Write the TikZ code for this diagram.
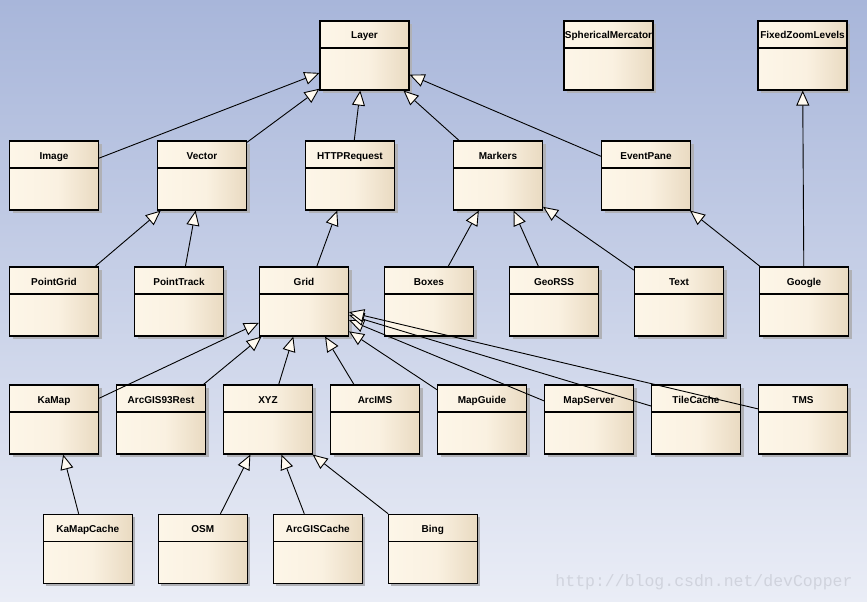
\documentclass[tikz,border=0pt]{standalone}
\usepackage{fontspec}
\setsansfont{Liberation Sans}
\setmonofont{Liberation Mono}
\usepackage{tikz}
\usetikzlibrary{arrows.meta,shadows}

\definecolor{bgtop}{RGB}{168,182,218}
\definecolor{bgbot}{RGB}{234,237,246}
\definecolor{clsA}{RGB}{253,246,232}
\definecolor{clsM}{RGB}{250,241,225}
\definecolor{clsB}{RGB}{233,218,193}
\definecolor{shadowgray}{RGB}{176,177,182}
\definecolor{tipfill}{RGB}{255,250,240}
\definecolor{wmgray}{RGB}{208,211,221}
\pgfdeclarehorizontalshading{clsshade}{100bp}{color(0bp)=(clsA); color(25bp)=(clsA); color(52bp)=(clsM); color(75bp)=(clsB); color(100bp)=(clsB)}

\begin{document}
\begin{tikzpicture}[x=1pt,y=-1pt]
      \tikzstyle{cls}=[rectangle,draw,line width=1.1pt,minimum width=89pt,inner sep=0pt,
        text height=18pt,text depth=51pt,font=\sffamily\bfseries\fontsize{10}{12}\selectfont,
        shading=clsshade,drop shadow={shadow xshift=3pt,shadow yshift=-3pt,fill=shadowgray,opacity=1},
        path picture={\draw[line width=1.1pt] ([yshift=-27pt]path picture bounding box.north west) -- ([yshift=-27pt]path picture bounding box.north east);}]
      \tikzstyle{inh}=[-{Triangle[length=15pt,width=13pt,fill=tipfill]},line width=.9pt]
      \tikzstyle{wmark}=[font=\ttfamily\fontsize{16.5}{18}\selectfont,text=wmgray]

      \useasboundingbox (0,0) rectangle (867,602);
      \shade[top color=bgtop,bottom color=bgbot] (0,0) rectangle (867,602);

      % top row
      \node[cls] (layer) at (364.5,55.5) {Layer};
      \node[cls] (sphmerc) at (608.5,55.5) {SphericalMercator};
      \node[cls] (fixzoom) at (802.5,55.5) {FixedZoomLevels};

      % second row
      \node[cls] (image) at (54,175.5) {Image};
      \node[cls] (vector) [node distance=148pt, right of=image] {Vector};
      \node[cls] (httpreq) [node distance=148pt, right of=vector] {HTTPRequest};
      \node[cls] (markers) [node distance=148pt, right of=httpreq] {Markers};
      \node[cls] (eventpane) [node distance=148pt, right of=markers] {EventPane};

      % third row
      \node[cls] (pointgrid) at (54,301.5) {PointGrid};
      \node[cls] (pointtrack) [node distance=125pt, right of=pointgrid] {PointTrack};
      \node[cls] (grid) [node distance=125pt, right of=pointtrack] {Grid};
      \node[cls] (boxes) [node distance=125pt, right of=grid] {Boxes};
      \node[cls] (georss) [node distance=125pt, right of=boxes] {GeoRSS};
      \node[cls] (text) [node distance=125pt, right of=georss] {Text};
      \node[cls] (google) [node distance=125pt, right of=text] {Google};

      % fourth row
      \node[cls] (kamap) at (54,419.5) {KaMap};
      \node[cls] (arcgisrest) [node distance=107pt, right of=kamap] {ArcGIS93Rest};
      \node[cls] (xyz) [node distance=107pt, right of=arcgisrest] {XYZ};
      \node[cls] (arcims) [node distance=107pt, right of=xyz] {ArcIMS};
      \node[cls] (mapguide) [node distance=107pt, right of=arcims] {MapGuide};
      \node[cls] (mapserver) [node distance=107pt, right of=mapguide] {MapServer};
      \node[cls] (tilecache) [node distance=107pt, right of=mapserver] {TileCache};
      \node[cls] (tms) [node distance=107pt, right of=tilecache] {TMS};

      % bottom row
      \node[cls] (kamapcache) at (87.8,548.8) {KaMapCache};
      \node[cls] (osm) [node distance=115pt, right of=kamapcache] {OSM};
      \node[cls] (arcgiscache) [node distance=115pt, right of=osm] {ArcGISCache};
      \node[cls] (bing) [node distance=115pt, right of=arcgiscache] {Bing};

      \draw[inh] (image) -- (layer);
      \draw[inh] (vector) -- (layer);
      \draw[inh] (httpreq) -- (layer);
      \draw[inh] (markers) -- (layer);
      \draw[inh] (eventpane) -- (layer);
      \draw[inh] (pointgrid) -- (vector);
      \draw[inh] (pointtrack) -- (vector);
      \draw[inh] (grid) -- (httpreq);
      \draw[inh] (boxes) -- (markers);
      \draw[inh] (georss) -- (markers);
      \draw[inh] (text) -- (markers);
      \draw[inh] (google) -- (eventpane);
      \draw[inh] (google) -- (fixzoom);
      \draw[inh] (kamap) -- (grid);
      \draw[inh] (arcgisrest) -- (grid);
      \draw[inh] (xyz) -- (grid);
      \draw[inh] (arcims) -- (grid);
      \draw[inh] (mapguide) -- (grid);
      \draw[inh] (mapserver) -- (grid);
      \draw[inh] (tilecache) -- (grid);
      \draw[inh] (tms) -- (grid);
      \draw[inh] (kamapcache) -- (kamap);
      \draw[inh] (osm) -- (xyz);
      \draw[inh] (arcgiscache) -- (xyz);
      \draw[inh] (bing) -- (xyz);

      \node[wmark] (url) at (704,582.5) {http://blog.csdn.net/devCopper};
\end{tikzpicture}
\end{document}
